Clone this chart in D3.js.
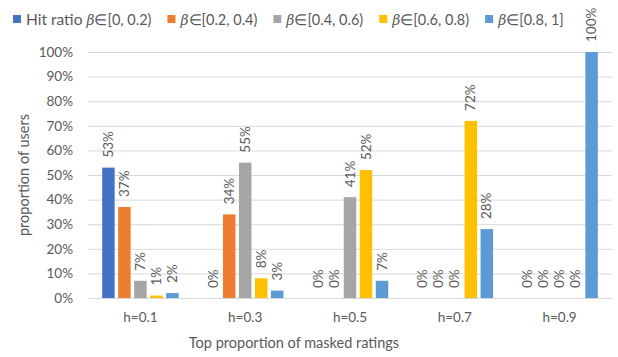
<!DOCTYPE html>
<html>
<head>
<meta charset="utf-8">
<script src="https://cdn.jsdelivr.net/npm/d3@7"></script>
<style>
  body { margin: 0; background: #fff; }
  svg { display: block; font-family: Lato, "Open Sans", sans-serif; }
</style>
</head>
<body>
<svg id="chart" width="618" height="357"></svg>
<script>
// Categories on the x axis (top proportion of masked ratings)
const categories = ["h=0.1", "h=0.3", "h=0.5", "h=0.7", "h=0.9"];

// Legend entries: prefix, italic symbol, interval
const seriesPrefix = ["Hit ratio ", "", "", "", ""];
const seriesInterval = ["∈[0, 0.2)", "∈[0.2, 0.4)", "∈[0.4, 0.6)", "∈[0.6, 0.8)", "∈[0.8, 1]"];
const seriesColors = ["#4472C4", "#ED7D31", "#A5A5A5", "#FFC000", "#5B9BD5"];

// Percent of users per series, one value per category
const hit_0_02   = [53, 0, 0, 0, 0];
const hit_02_04  = [37, 34, 0, 0, 0];
const hit_04_06  = [7, 55, 41, 0, 0];
const hit_06_08  = [1, 8, 52, 72, 0];
const hit_08_1   = [2, 3, 7, 28, 100];
const seriesValues = [hit_0_02, hit_02_04, hit_04_06, hit_06_08, hit_08_1];

// Y tick values (percent)
const yTicks = [0, 10, 20, 30, 40, 50, 60, 70, 80, 90, 100];

const svg = d3.select("#chart");
const textColor = "#595959";
const gridColor = "#D9D9D9";

const plot = { left: 88, right: 612, top: 52, bottom: 298 };

const y = d3.scaleLinear().domain([0, 100]).range([plot.bottom, plot.top]);
const x0 = d3.scaleBand().domain(categories).range([plot.left, plot.right]).padding(0);
const seriesIdx = d3.range(seriesValues.length);
const half = 40;
const x1 = d3.scaleBand().domain(seriesIdx)
  .range([x0.bandwidth() / 2 - half, x0.bandwidth() / 2 + half])
  .paddingInner(0.22).paddingOuter(0.11);

// Gridlines
svg.append("g").selectAll("line").data(yTicks).join("line")
  .attr("x1", plot.left).attr("x2", plot.right)
  .attr("y1", d => y(d) + 0.5).attr("y2", d => y(d) + 0.5)
  .attr("stroke", gridColor).attr("stroke-width", 1);

// Y axis labels
const yAxis = d3.axisLeft(y).tickValues(yTicks).tickFormat(d => d + "%").tickSize(0).tickPadding(0);
const yg = svg.append("g").attr("transform", `translate(${plot.left - 15},0)`).call(yAxis);
yg.select(".domain").remove();
yg.selectAll("text").attr("fill", textColor).style("font-size", "13.5px").style("font-family", "Lato, sans-serif");

// X axis labels
const xAxis = d3.axisBottom(x0).tickSize(0).tickPadding(0);
const xg = svg.append("g").attr("transform", `translate(0,${plot.bottom + 14})`).call(xAxis);
xg.select(".domain").remove();
xg.selectAll("text").attr("fill", textColor).style("font-size", "13.5px").style("font-family", "Lato, sans-serif");

// Bars and value labels
const groups = svg.append("g").selectAll("g").data(categories).join("g")
  .attr("transform", d => `translate(${x0(d)},0)`);

groups.each(function (cat, ci) {
  const g = d3.select(this);
  const vals = seriesIdx.map(si => ({ si, v: seriesValues[si][ci] }));
  g.selectAll("rect").data(vals).join("rect")
    .attr("x", d => x1(d.si))
    .attr("y", d => y(d.v))
    .attr("width", x1.bandwidth())
    .attr("height", d => y(0) - y(d.v))
    .attr("fill", d => seriesColors[d.si]);
  g.selectAll("text").data(vals).join("text")
    .attr("transform", d => {
      const cx = x1(d.si) + x1.bandwidth() / 2 + 4.5;
      const yy = y(d.v) - 10;
      return `translate(${cx},${yy}) rotate(-90)`;
    })
    .attr("text-anchor", "start")
    .attr("fill", textColor)
    .style("font-size", "13.5px")
    .text(d => d.v + "%");
});

// Axis titles
svg.append("text")
  .attr("transform", `translate(29,${(plot.top + plot.bottom) / 2}) rotate(-90)`)
  .attr("text-anchor", "middle").attr("fill", textColor)
  .style("font-size", "14.5px").text("proportion of users");

svg.append("text")
  .attr("x", 294).attr("y", 348)
  .attr("text-anchor", "middle").attr("fill", textColor)
  .style("font-size", "14.5px").text("Top proportion of masked ratings");

// Legend
const legend = svg.append("g").attr("transform", "translate(13,19)");
let lx = 0;
seriesIdx.forEach(si => {
  const item = legend.append("g").attr("transform", `translate(${lx},0)`);
  item.append("rect").attr("x", 0).attr("y", -4).attr("width", 8).attr("height", 8)
    .attr("fill", seriesColors[si]);
  const t = item.append("text").attr("x", 13).attr("y", 5.5)
    .attr("fill", textColor).style("font-size", "15.5px");
  if (seriesPrefix[si]) t.append("tspan").text(seriesPrefix[si]);
  t.append("tspan").style("font-style", "italic").style("font-family", "DejaVu Serif, serif").style("font-size", "14px").text("β");
  t.append("tspan").style("font-family", "Lato, sans-serif").style("font-size", "14.5px").text(seriesInterval[si]);
  lx += 13 + t.node().getComputedTextLength() + 16;
});
</script>
</body>
</html>
